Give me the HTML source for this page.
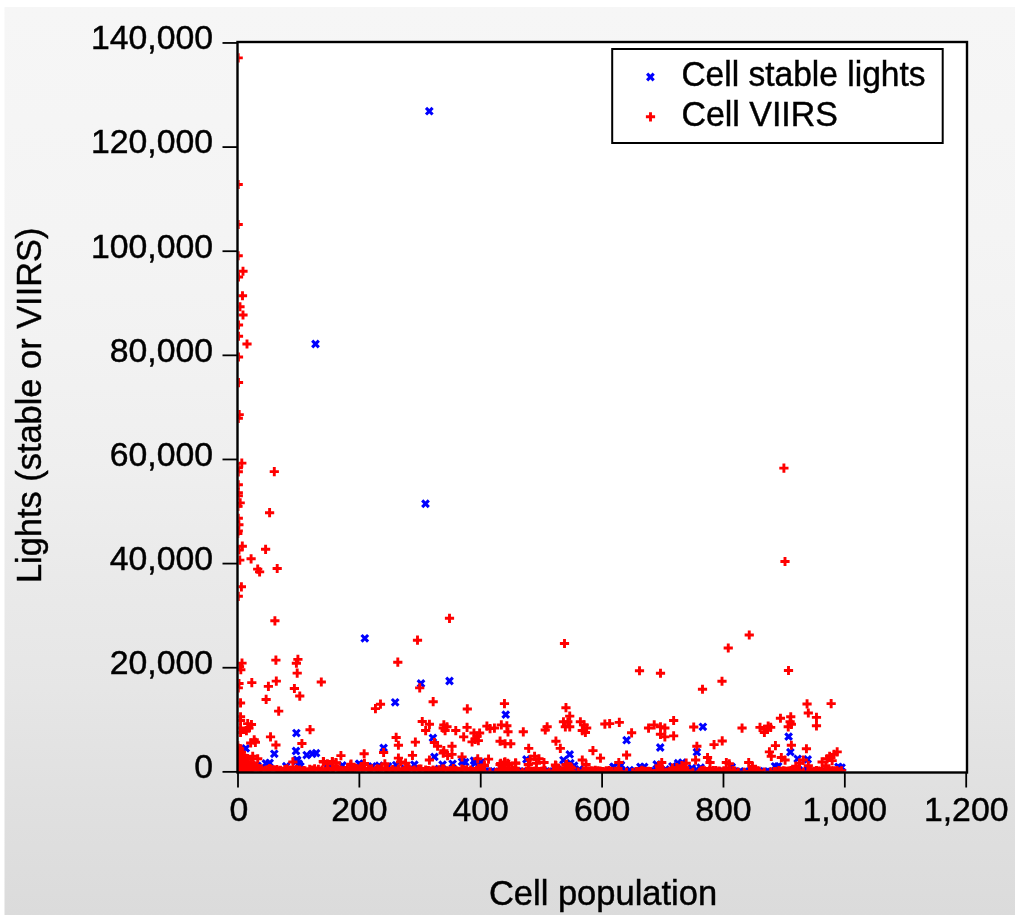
<!DOCTYPE html>
<html><head><meta charset="utf-8"><title>Lights vs cell population</title>
<style>
html,body{margin:0;padding:0;background:#fff;}
body{width:1024px;height:924px;overflow:hidden;font-family:"Liberation Sans",sans-serif;}
svg{display:block}
text{font-family:"Liberation Sans",sans-serif;fill:#000;stroke:#000;stroke-width:0.45px}
</style></head><body>
<svg width="1024" height="924" viewBox="0 0 1024 924">
<defs>
<linearGradient id="bg" x1="0" y1="0" x2="0" y2="1"><stop offset="0" stop-color="#f6f6f6"/><stop offset="0.125" stop-color="#f5f5f5"/><stop offset="0.25" stop-color="#f4f4f4"/><stop offset="0.375" stop-color="#f2f2f2"/><stop offset="0.5" stop-color="#efefef"/><stop offset="0.625" stop-color="#eaeaea"/><stop offset="0.75" stop-color="#e6e6e6"/><stop offset="0.875" stop-color="#e0e0e0"/><stop offset="1" stop-color="#dbdbdb"/></linearGradient>
<path id="p" d="M-4.6 0H4.6M0 -4.6V4.6" stroke="#f00" stroke-width="2.9" fill="none"/>
<path id="x" d="M-3.3 -3.3L3.3 3.3M-3.3 3.3L3.3 -3.3" stroke="#00f" stroke-width="3.1" fill="none"/>
<clipPath id="clip"><rect x="238.5" y="43" width="727.5" height="728.5"/></clipPath>
</defs>
<rect x="0" y="0" width="1024" height="924" fill="#fff"/>
<rect x="4.5" y="7" width="1010.5" height="908" fill="url(#bg)"/>
<rect x="237.5" y="42" width="729.5" height="730.5" fill="#fff"/>

<g clip-path="url(#clip)">
<use href="#x" x="315.5" y="344"/>
<use href="#x" x="425.5" y="503.75"/>
<use href="#x" x="297.2" y="759.9"/>
<use href="#x" x="298.7" y="763.7"/>
<use href="#x" x="257.6" y="765.9"/>
<use href="#x" x="286.2" y="766.2"/>
<use href="#x" x="296.8" y="760.7"/>
<use href="#x" x="328" y="764.6"/>
<use href="#x" x="299.9" y="766.2"/>
<use href="#x" x="364.8" y="638.3"/>
<use href="#x" x="421" y="683.5"/>
<use href="#x" x="449.5" y="681"/>
<use href="#x" x="429.3" y="111.2"/>
<use href="#x" x="296.376" y="733.067"/>
<use href="#x" x="296" y="751.012"/>
<use href="#x" x="274.29" y="753.773"/>
<use href="#x" x="245.804" y="748.376"/>
<use href="#x" x="306.667" y="755.027"/>
<use href="#x" x="312.314" y="753.773"/>
<use href="#x" x="316.078" y="753.145"/>
<use href="#x" x="265.882" y="763.435"/>
<use href="#x" x="269.647" y="762.933"/>
<use href="#x" x="296" y="760.675"/>
<use href="#x" x="300.392" y="766.322"/>
<use href="#x" x="328.627" y="764.439"/>
<use href="#x" x="342.431" y="765.443"/>
<use href="#x" x="359.373" y="763.812"/>
<use href="#x" x="395.153" y="702.322"/>
<use href="#x" x="432.925" y="737.835"/>
<use href="#x" x="383.608" y="747.875"/>
<use href="#x" x="434.431" y="756.91"/>
<use href="#x" x="414.353" y="764.69"/>
<use href="#x" x="442.588" y="764.69"/>
<use href="#x" x="462.039" y="761.678"/>
<use href="#x" x="465.176" y="762.18"/>
<use href="#x" x="452.627" y="763.812"/>
<use href="#x" x="473.961" y="760.675"/>
<use href="#x" x="475.216" y="763.184"/>
<use href="#x" x="359.137" y="763.812"/>
<use href="#x" x="379.216" y="765.694"/>
<use href="#x" x="396.157" y="765.067"/>
<use href="#x" x="404.941" y="768.831"/>
<use href="#x" x="438.824" y="768.831"/>
<use href="#x" x="372.314" y="766.322"/>
<use href="#x" x="388" y="766.322"/>
<use href="#x" x="480.863" y="762.557"/>
<use href="#x" x="505.725" y="714.62"/>
<use href="#x" x="569.725" y="754.4"/>
<use href="#x" x="563.451" y="760.047"/>
<use href="#x" x="570.353" y="763.184"/>
<use href="#x" x="574.118" y="765.694"/>
<use href="#x" x="526.431" y="759.42"/>
<use href="#x" x="480.627" y="763.184"/>
<use href="#x" x="626.588" y="740.22"/>
<use href="#x" x="660.22" y="747.498"/>
<use href="#x" x="702.886" y="726.792"/>
<use href="#x" x="696.863" y="752.141"/>
<use href="#x" x="620.314" y="765.694"/>
<use href="#x" x="629.725" y="770.086"/>
<use href="#x" x="640.392" y="766.949"/>
<use href="#x" x="644.157" y="766.949"/>
<use href="#x" x="656.706" y="764.439"/>
<use href="#x" x="665.49" y="769.459"/>
<use href="#x" x="672.392" y="766.322"/>
<use href="#x" x="678.039" y="763.184"/>
<use href="#x" x="682.431" y="762.557"/>
<use href="#x" x="691.843" y="768.204"/>
<use href="#x" x="696.235" y="770.086"/>
<use href="#x" x="700.627" y="767.576"/>
<use href="#x" x="613.412" y="766.949"/>
<use href="#x" x="788.612" y="736.58"/>
<use href="#x" x="790.369" y="752.141"/>
<use href="#x" x="797.647" y="758.792"/>
<use href="#x" x="807.686" y="759.42"/>
<use href="#x" x="775.059" y="766.322"/>
<use href="#x" x="778.196" y="766.322"/>
<use href="#x" x="731.765" y="766.949"/>
<use href="#x" x="803.294" y="770.086"/>
<use href="#x" x="838.431" y="766.949"/>
<use href="#x" x="841.569" y="767.576"/>
<use href="#x" x="480.5" y="772.2"/>
<use href="#x" x="483" y="771.3"/>
<use href="#x" x="485.8" y="771.3"/>
<use href="#x" x="489.1" y="771.3"/>
<use href="#x" x="492.1" y="771.5"/>
<use href="#x" x="495.6" y="772.1"/>
<use href="#x" x="498.9" y="771.6"/>
<use href="#x" x="501.6" y="771.7"/>
<use href="#x" x="504.7" y="771.5"/>
<use href="#x" x="507.4" y="771.5"/>
<use href="#x" x="511.6" y="771.3"/>
<use href="#x" x="514.1" y="771.8"/>
<use href="#x" x="517.6" y="771.4"/>
<use href="#x" x="520" y="771.4"/>
<use href="#x" x="523.3" y="771.6"/>
<use href="#x" x="527" y="772"/>
<use href="#x" x="530" y="771.2"/>
<use href="#x" x="532.1" y="771.9"/>
<use href="#x" x="536.3" y="771.7"/>
<use href="#x" x="539" y="771.2"/>
<use href="#x" x="541.9" y="772.1"/>
<use href="#x" x="545.5" y="772.1"/>
<use href="#x" x="548.8" y="771.4"/>
<use href="#x" x="550.8" y="771.4"/>
<use href="#x" x="554.4" y="771.9"/>
<use href="#x" x="558" y="771.9"/>
<use href="#x" x="560.8" y="772"/>
<use href="#x" x="563.6" y="771.8"/>
<use href="#x" x="566.2" y="772"/>
<use href="#x" x="569.6" y="772.1"/>
<use href="#x" x="573.2" y="771.5"/>
<use href="#x" x="575.7" y="771.5"/>
<use href="#x" x="579.4" y="771.9"/>
<use href="#x" x="581.8" y="771.3"/>
<use href="#x" x="585.4" y="771.8"/>
<use href="#x" x="588.4" y="771.4"/>
<use href="#x" x="591.7" y="771.2"/>
<use href="#x" x="594.5" y="771.7"/>
<use href="#x" x="598.4" y="771.8"/>
<use href="#x" x="601.4" y="771.7"/>
<use href="#x" x="603.7" y="771.4"/>
<use href="#x" x="607.7" y="771.9"/>
<use href="#x" x="610" y="771.2"/>
<use href="#x" x="613.3" y="771.9"/>
<use href="#x" x="616.3" y="771.5"/>
<use href="#x" x="619.7" y="772.1"/>
<use href="#x" x="622.3" y="771.2"/>
<use href="#x" x="625.5" y="771.6"/>
<use href="#x" x="629" y="771.4"/>
<use href="#x" x="632.3" y="771.9"/>
<use href="#x" x="635" y="771.4"/>
<use href="#x" x="638.7" y="771.5"/>
<use href="#x" x="641.6" y="771.4"/>
<use href="#x" x="644" y="772"/>
<use href="#x" x="647.2" y="772.2"/>
<use href="#x" x="650.5" y="771.4"/>
<use href="#x" x="653.3" y="771.6"/>
<use href="#x" x="656.9" y="772.1"/>
<use href="#x" x="659.4" y="771.6"/>
<use href="#x" x="662.6" y="772.2"/>
<use href="#x" x="665.6" y="771.3"/>
<use href="#x" x="668.6" y="771.6"/>
<use href="#x" x="672.7" y="772.1"/>
<use href="#x" x="675.6" y="772.2"/>
<use href="#x" x="678.9" y="771.5"/>
<use href="#x" x="681.1" y="772.1"/>
<use href="#x" x="684.9" y="771.2"/>
<use href="#x" x="687.9" y="771.6"/>
<use href="#x" x="690.6" y="771.5"/>
<use href="#x" x="693.5" y="771.2"/>
<use href="#x" x="696.7" y="771.6"/>
<use href="#x" x="700.6" y="771.3"/>
<use href="#x" x="703.8" y="771.4"/>
<use href="#x" x="706.1" y="772"/>
<use href="#x" x="709.8" y="771.6"/>
<use href="#x" x="712" y="771.7"/>
<use href="#x" x="715.4" y="772.1"/>
<use href="#x" x="718.3" y="771.6"/>
<use href="#x" x="722.3" y="771.2"/>
<use href="#x" x="724.8" y="772"/>
<use href="#x" x="728.3" y="771.2"/>
<use href="#x" x="730.5" y="771.3"/>
<use href="#x" x="734.7" y="771.5"/>
<use href="#x" x="737.6" y="772.1"/>
<use href="#x" x="740.2" y="771.5"/>
<use href="#x" x="744" y="771.8"/>
<use href="#x" x="746.3" y="771.9"/>
<use href="#x" x="749.5" y="771.5"/>
<use href="#x" x="752.2" y="772"/>
<use href="#x" x="756.4" y="771.8"/>
<use href="#x" x="759.5" y="771.2"/>
<use href="#x" x="761.8" y="771.7"/>
<use href="#x" x="765.7" y="772.2"/>
<use href="#x" x="768.2" y="771.5"/>
<use href="#x" x="771.3" y="771.7"/>
<use href="#x" x="775" y="771.4"/>
<use href="#x" x="778" y="771.9"/>
<use href="#x" x="781.1" y="772"/>
<use href="#x" x="783.9" y="771.5"/>
<use href="#x" x="786.7" y="771.6"/>
<use href="#x" x="790.3" y="771.3"/>
<use href="#x" x="792.7" y="772"/>
<use href="#x" x="795.9" y="771.3"/>
<use href="#x" x="798.7" y="771.8"/>
<use href="#x" x="802.2" y="772.2"/>
<use href="#x" x="806" y="772.2"/>
<use href="#x" x="808.3" y="771.3"/>
<use href="#x" x="811.2" y="771.7"/>
<use href="#x" x="815.1" y="771.6"/>
<use href="#x" x="817.6" y="771.6"/>
<use href="#x" x="821.1" y="771.9"/>
<use href="#x" x="824.4" y="772"/>
<use href="#x" x="827.4" y="771.3"/>
<use href="#x" x="830.7" y="771.5"/>
<use href="#x" x="833.5" y="771.6"/>
<use href="#x" x="836.8" y="771.4"/>
<use href="#x" x="839.3" y="771.4"/>
<use href="#x" x="842.3" y="772.1"/>
<use href="#x" x="579.5" y="769.3"/>
<use href="#x" x="562.3" y="769.7"/>
<use href="#x" x="614" y="767"/>
<use href="#x" x="621" y="765"/>
<use href="#p" x="238.2" y="57.9"/>
<use href="#p" x="238.2" y="184.5"/>
<use href="#p" x="238.2" y="224.5"/>
<use href="#p" x="238.2" y="255.75"/>
<use href="#p" x="243" y="271.25"/>
<use href="#p" x="238.5" y="277"/>
<use href="#p" x="242.5" y="295.75"/>
<use href="#p" x="240" y="306.75"/>
<use href="#p" x="243" y="315"/>
<use href="#p" x="238.5" y="325"/>
<use href="#p" x="238.5" y="336.25"/>
<use href="#p" x="247" y="344"/>
<use href="#p" x="238.5" y="357"/>
<use href="#p" x="238.5" y="382.55"/>
<use href="#p" x="239.2" y="414.6"/>
<use href="#p" x="238.3" y="418.3"/>
<use href="#p" x="241.8" y="463.1"/>
<use href="#p" x="238.3" y="467.7"/>
<use href="#p" x="238.3" y="471.8"/>
<use href="#p" x="274.3" y="471.6"/>
<use href="#p" x="238.3" y="484.8"/>
<use href="#p" x="238.3" y="492.6"/>
<use href="#p" x="238.3" y="495.7"/>
<use href="#p" x="240.2" y="502.9"/>
<use href="#p" x="238" y="506.4"/>
<use href="#p" x="269.6" y="512.7"/>
<use href="#p" x="238.3" y="518.3"/>
<use href="#p" x="238.9" y="524.8"/>
<use href="#p" x="238.3" y="530.9"/>
<use href="#p" x="237.8" y="533.5"/>
<use href="#p" x="242.3" y="546.2"/>
<use href="#p" x="239" y="550"/>
<use href="#p" x="265.6" y="549.3"/>
<use href="#p" x="251.1" y="558.8"/>
<use href="#p" x="239.8" y="560.1"/>
<use href="#p" x="257.7" y="569.1"/>
<use href="#p" x="259.6" y="571.9"/>
<use href="#p" x="277.2" y="568.5"/>
<use href="#p" x="241.4" y="586.8"/>
<use href="#p" x="238.3" y="596.3"/>
<use href="#p" x="274.9" y="620.8"/>
<use href="#p" x="242" y="663.1"/>
<use href="#p" x="240.8" y="669.7"/>
<use href="#p" x="239.5" y="666.6"/>
<use href="#p" x="275.9" y="660.1"/>
<use href="#p" x="297.9" y="659.4"/>
<use href="#p" x="296.4" y="663.2"/>
<use href="#p" x="297.2" y="673.1"/>
<use href="#p" x="239" y="683.5"/>
<use href="#p" x="238.3" y="687.9"/>
<use href="#p" x="251.8" y="682.6"/>
<use href="#p" x="268.4" y="686.4"/>
<use href="#p" x="276.3" y="681.1"/>
<use href="#p" x="294.4" y="688.5"/>
<use href="#p" x="321.3" y="682"/>
<use href="#p" x="254.2" y="739.8"/>
<use href="#p" x="250.7" y="743"/>
<use href="#p" x="255.4" y="742.3"/>
<use href="#p" x="323.3" y="761.5"/>
<use href="#p" x="332.3" y="761.5"/>
<use href="#p" x="335.9" y="762.7"/>
<use href="#p" x="351.1" y="764.2"/>
<use href="#p" x="364.4" y="763.4"/>
<use href="#p" x="449.5" y="618.3"/>
<use href="#p" x="417.5" y="640.2"/>
<use href="#p" x="397.8" y="662.2"/>
<use href="#p" x="419.7" y="687.9"/>
<use href="#p" x="564.5" y="643.5"/>
<use href="#p" x="639.5" y="670.75"/>
<use href="#p" x="660.5" y="673.25"/>
<use href="#p" x="728.25" y="648"/>
<use href="#p" x="722" y="681.25"/>
<use href="#p" x="702.5" y="689.25"/>
<use href="#p" x="783.9" y="468.1"/>
<use href="#p" x="785" y="561.5"/>
<use href="#p" x="749.25" y="635"/>
<use href="#p" x="788.5" y="670.5"/>
<use href="#p" x="266.133" y="699.435"/>
<use href="#p" x="299.765" y="696.047"/>
<use href="#p" x="278.682" y="711.106"/>
<use href="#p" x="310.055" y="729.678"/>
<use href="#p" x="270.525" y="736.831"/>
<use href="#p" x="275.922" y="744.988"/>
<use href="#p" x="301.898" y="743.482"/>
<use href="#p" x="340.925" y="755.655"/>
<use href="#p" x="240.533" y="702.949"/>
<use href="#p" x="240.533" y="716.753"/>
<use href="#p" x="240.533" y="720.518"/>
<use href="#p" x="247.686" y="723.655"/>
<use href="#p" x="251.451" y="724.533"/>
<use href="#p" x="246.431" y="730.557"/>
<use href="#p" x="248.941" y="728.047"/>
<use href="#p" x="240.533" y="728.047"/>
<use href="#p" x="240.533" y="732.439"/>
<use href="#p" x="252.706" y="756.282"/>
<use href="#p" x="257.725" y="758.792"/>
<use href="#p" x="292.863" y="761.929"/>
<use href="#p" x="323.608" y="761.929"/>
<use href="#p" x="327.373" y="763.812"/>
<use href="#p" x="332.392" y="761.929"/>
<use href="#p" x="336.157" y="763.184"/>
<use href="#p" x="350.588" y="765.067"/>
<use href="#p" x="380.471" y="704.204"/>
<use href="#p" x="375.451" y="708.596"/>
<use href="#p" x="433.176" y="701.694"/>
<use href="#p" x="467.31" y="708.973"/>
<use href="#p" x="422.259" y="721.522"/>
<use href="#p" x="429.412" y="724.282"/>
<use href="#p" x="425.647" y="730.557"/>
<use href="#p" x="443.843" y="724.91"/>
<use href="#p" x="446.98" y="726.792"/>
<use href="#p" x="445.098" y="730.557"/>
<use href="#p" x="443.216" y="728.047"/>
<use href="#p" x="455.765" y="730.557"/>
<use href="#p" x="467.059" y="727.42"/>
<use href="#p" x="463.671" y="736.831"/>
<use href="#p" x="473.961" y="733.067"/>
<use href="#p" x="477.098" y="736.204"/>
<use href="#p" x="479.608" y="733.067"/>
<use href="#p" x="475.216" y="739.341"/>
<use href="#p" x="472.078" y="741.851"/>
<use href="#p" x="478.353" y="740.596"/>
<use href="#p" x="396.157" y="737.459"/>
<use href="#p" x="398.416" y="745.239"/>
<use href="#p" x="415.357" y="742.102"/>
<use href="#p" x="452" y="746.243"/>
<use href="#p" x="434.431" y="742.478"/>
<use href="#p" x="437.569" y="746.243"/>
<use href="#p" x="383.608" y="752.518"/>
<use href="#p" x="364.157" y="753.773"/>
<use href="#p" x="412.471" y="755.404"/>
<use href="#p" x="398.416" y="758.165"/>
<use href="#p" x="400.549" y="761.929"/>
<use href="#p" x="405.569" y="763.184"/>
<use href="#p" x="443.216" y="753.145"/>
<use href="#p" x="447.608" y="755.655"/>
<use href="#p" x="452" y="754.4"/>
<use href="#p" x="443.843" y="750.635"/>
<use href="#p" x="462.039" y="756.91"/>
<use href="#p" x="429.412" y="760.047"/>
<use href="#p" x="477.725" y="758.792"/>
<use href="#p" x="364.157" y="764.439"/>
<use href="#p" x="384.863" y="763.812"/>
<use href="#p" x="504.471" y="703.576"/>
<use href="#p" x="486.902" y="726.165"/>
<use href="#p" x="490.039" y="728.675"/>
<use href="#p" x="494.431" y="728.047"/>
<use href="#p" x="501.333" y="724.91"/>
<use href="#p" x="506.855" y="725.788"/>
<use href="#p" x="507.984" y="731.812"/>
<use href="#p" x="523.294" y="731.812"/>
<use href="#p" x="500.078" y="741.224"/>
<use href="#p" x="505.098" y="743.733"/>
<use href="#p" x="510.745" y="743.733"/>
<use href="#p" x="528.69" y="748.376"/>
<use href="#p" x="547.137" y="726.792"/>
<use href="#p" x="545.255" y="729.929"/>
<use href="#p" x="565.961" y="707.718"/>
<use href="#p" x="569.725" y="716.125"/>
<use href="#p" x="563.451" y="721.773"/>
<use href="#p" x="567.843" y="721.773"/>
<use href="#p" x="565.333" y="726.792"/>
<use href="#p" x="569.725" y="726.792"/>
<use href="#p" x="580.392" y="721.773"/>
<use href="#p" x="584.157" y="724.91"/>
<use href="#p" x="586.667" y="728.047"/>
<use href="#p" x="582.275" y="730.557"/>
<use href="#p" x="585.412" y="732.439"/>
<use href="#p" x="604.863" y="724.031"/>
<use href="#p" x="555.922" y="741.224"/>
<use href="#p" x="560.314" y="748.376"/>
<use href="#p" x="592.941" y="750.635"/>
<use href="#p" x="600.471" y="758.165"/>
<use href="#p" x="488.533" y="759.169"/>
<use href="#p" x="582.275" y="760.047"/>
<use href="#p" x="586.039" y="764.439"/>
<use href="#p" x="534.588" y="756.282"/>
<use href="#p" x="530.196" y="759.42"/>
<use href="#p" x="538.98" y="758.792"/>
<use href="#p" x="544" y="762.557"/>
<use href="#p" x="528.314" y="764.439"/>
<use href="#p" x="536.471" y="763.184"/>
<use href="#p" x="504.471" y="762.557"/>
<use href="#p" x="500.078" y="764.439"/>
<use href="#p" x="515.765" y="763.184"/>
<use href="#p" x="508.863" y="764.439"/>
<use href="#p" x="555.922" y="765.694"/>
<use href="#p" x="566.588" y="764.439"/>
<use href="#p" x="570.353" y="766.949"/>
<use href="#p" x="484.392" y="765.694"/>
<use href="#p" x="609.647" y="723.655"/>
<use href="#p" x="619.31" y="722.4"/>
<use href="#p" x="631.608" y="732.816"/>
<use href="#p" x="673.647" y="720.518"/>
<use href="#p" x="648.549" y="728.047"/>
<use href="#p" x="654.196" y="724.91"/>
<use href="#p" x="660.471" y="726.792"/>
<use href="#p" x="664.863" y="728.047"/>
<use href="#p" x="660.471" y="734.322"/>
<use href="#p" x="664.863" y="736.831"/>
<use href="#p" x="673.647" y="735.827"/>
<use href="#p" x="693.725" y="727.043"/>
<use href="#p" x="722.212" y="740.973"/>
<use href="#p" x="714.055" y="744.612"/>
<use href="#p" x="696.863" y="746.243"/>
<use href="#p" x="626.588" y="755.027"/>
<use href="#p" x="618.808" y="762.557"/>
<use href="#p" x="661.725" y="762.557"/>
<use href="#p" x="659.216" y="765.694"/>
<use href="#p" x="695.608" y="760.047"/>
<use href="#p" x="707.529" y="757.537"/>
<use href="#p" x="710.039" y="762.557"/>
<use href="#p" x="686.196" y="763.184"/>
<use href="#p" x="681.804" y="765.694"/>
<use href="#p" x="676.784" y="767.576"/>
<use href="#p" x="672.392" y="768.204"/>
<use href="#p" x="726.353" y="762.557"/>
<use href="#p" x="807.059" y="703.953"/>
<use href="#p" x="831.153" y="703.576"/>
<use href="#p" x="808.314" y="712.988"/>
<use href="#p" x="816.471" y="717.38"/>
<use href="#p" x="816.471" y="725.788"/>
<use href="#p" x="780.455" y="718.259"/>
<use href="#p" x="790.745" y="716.753"/>
<use href="#p" x="790.118" y="721.773"/>
<use href="#p" x="791.373" y="724.282"/>
<use href="#p" x="788.235" y="726.792"/>
<use href="#p" x="742.055" y="728.047"/>
<use href="#p" x="760" y="727.42"/>
<use href="#p" x="764.392" y="729.302"/>
<use href="#p" x="768.157" y="726.165"/>
<use href="#p" x="770.667" y="727.42"/>
<use href="#p" x="764.392" y="732.439"/>
<use href="#p" x="767.529" y="729.302"/>
<use href="#p" x="775.435" y="745.616"/>
<use href="#p" x="791.373" y="745.239"/>
<use href="#p" x="806.431" y="748.753"/>
<use href="#p" x="769.412" y="751.89"/>
<use href="#p" x="771.294" y="756.282"/>
<use href="#p" x="781.333" y="757.537"/>
<use href="#p" x="785.098" y="760.047"/>
<use href="#p" x="748.706" y="762.557"/>
<use href="#p" x="752.471" y="766.322"/>
<use href="#p" x="729.255" y="763.812"/>
<use href="#p" x="837.176" y="751.89"/>
<use href="#p" x="834.039" y="754.4"/>
<use href="#p" x="829.647" y="756.282"/>
<use href="#p" x="827.137" y="758.792"/>
<use href="#p" x="832.157" y="760.675"/>
<use href="#p" x="822.118" y="761.929"/>
<use href="#p" x="825.882" y="765.694"/>
<use href="#p" x="803.294" y="760.047"/>
<use href="#p" x="799.529" y="763.184"/>
<use href="#p" x="795.765" y="766.322"/>
<use href="#p" x="808.314" y="765.694"/>
<use href="#p" x="238.8" y="769"/>
<use href="#p" x="241.1" y="768.7"/>
<use href="#p" x="242.8" y="769.7"/>
<use href="#p" x="244.2" y="770.2"/>
<use href="#p" x="246" y="769.9"/>
<use href="#p" x="248" y="768.8"/>
<use href="#p" x="250.3" y="771.2"/>
<use href="#p" x="251.8" y="769.2"/>
<use href="#p" x="254.4" y="771.6"/>
<use href="#p" x="256.2" y="769.8"/>
<use href="#p" x="258.6" y="768.7"/>
<use href="#p" x="260.3" y="769.5"/>
<use href="#p" x="261.4" y="768.9"/>
<use href="#p" x="263.5" y="771.2"/>
<use href="#p" x="265.2" y="770.4"/>
<use href="#p" x="267.7" y="769.7"/>
<use href="#p" x="269.5" y="768.7"/>
<use href="#p" x="270.8" y="769.2"/>
<use href="#p" x="273.4" y="769.9"/>
<use href="#p" x="274.9" y="770.4"/>
<use href="#p" x="276.9" y="769.5"/>
<use href="#p" x="279.3" y="770.8"/>
<use href="#p" x="280.5" y="770.4"/>
<use href="#p" x="282.7" y="771.4"/>
<use href="#p" x="284.9" y="769.5"/>
<use href="#p" x="287.1" y="768.9"/>
<use href="#p" x="288.3" y="771"/>
<use href="#p" x="289.9" y="770.1"/>
<use href="#p" x="291.6" y="770.7"/>
<use href="#p" x="294.4" y="770.4"/>
<use href="#p" x="296.5" y="769.5"/>
<use href="#p" x="298.1" y="770.5"/>
<use href="#p" x="299.9" y="770"/>
<use href="#p" x="302.1" y="771.6"/>
<use href="#p" x="303.6" y="770.7"/>
<use href="#p" x="305" y="770.8"/>
<use href="#p" x="307.6" y="771.8"/>
<use href="#p" x="309.7" y="769.4"/>
<use href="#p" x="311.1" y="770.7"/>
<use href="#p" x="312.5" y="770"/>
<use href="#p" x="314.6" y="768.9"/>
<use href="#p" x="316.4" y="771"/>
<use href="#p" x="318.4" y="769.3"/>
<use href="#p" x="320.6" y="771.4"/>
<use href="#p" x="322.1" y="770"/>
<use href="#p" x="324.6" y="771.4"/>
<use href="#p" x="326.8" y="771.4"/>
<use href="#p" x="328" y="769.9"/>
<use href="#p" x="330" y="771.4"/>
<use href="#p" x="332.6" y="769"/>
<use href="#p" x="333.6" y="769.3"/>
<use href="#p" x="335.6" y="770.1"/>
<use href="#p" x="337.9" y="769.4"/>
<use href="#p" x="339.1" y="769.9"/>
<use href="#p" x="341.4" y="770.4"/>
<use href="#p" x="344" y="770.8"/>
<use href="#p" x="345.4" y="770.5"/>
<use href="#p" x="347.5" y="768.7"/>
<use href="#p" x="349.7" y="771.1"/>
<use href="#p" x="351.5" y="771.1"/>
<use href="#p" x="352.9" y="769.8"/>
<use href="#p" x="354.4" y="770.6"/>
<use href="#p" x="356.3" y="768.7"/>
<use href="#p" x="358.4" y="769"/>
<use href="#p" x="360.4" y="768.7"/>
<use href="#p" x="361.9" y="769"/>
<use href="#p" x="363.9" y="769.7"/>
<use href="#p" x="365.7" y="771.4"/>
<use href="#p" x="368.3" y="769"/>
<use href="#p" x="369.8" y="769.6"/>
<use href="#p" x="371.8" y="768.9"/>
<use href="#p" x="374.3" y="771.8"/>
<use href="#p" x="375.8" y="770.1"/>
<use href="#p" x="377.2" y="768.8"/>
<use href="#p" x="379.4" y="769.4"/>
<use href="#p" x="381.9" y="769"/>
<use href="#p" x="382.8" y="771.6"/>
<use href="#p" x="385.3" y="769"/>
<use href="#p" x="387.3" y="768.6"/>
<use href="#p" x="389.1" y="771.7"/>
<use href="#p" x="391.4" y="770.8"/>
<use href="#p" x="392.6" y="769.7"/>
<use href="#p" x="394.4" y="771"/>
<use href="#p" x="396.7" y="771.1"/>
<use href="#p" x="398.4" y="769.2"/>
<use href="#p" x="400.9" y="771.8"/>
<use href="#p" x="402.8" y="771.2"/>
<use href="#p" x="404.7" y="770.9"/>
<use href="#p" x="405.9" y="770.2"/>
<use href="#p" x="407.9" y="768.6"/>
<use href="#p" x="409.4" y="769.4"/>
<use href="#p" x="411.6" y="770.8"/>
<use href="#p" x="414.3" y="770"/>
<use href="#p" x="416.2" y="771.8"/>
<use href="#p" x="418.1" y="769.7"/>
<use href="#p" x="419.2" y="769.2"/>
<use href="#p" x="421" y="769.2"/>
<use href="#p" x="423.4" y="771.5"/>
<use href="#p" x="425.6" y="770.1"/>
<use href="#p" x="427.3" y="771.1"/>
<use href="#p" x="428.5" y="770.7"/>
<use href="#p" x="431.4" y="771.1"/>
<use href="#p" x="433.1" y="770.1"/>
<use href="#p" x="434.3" y="771.1"/>
<use href="#p" x="436.4" y="771.1"/>
<use href="#p" x="439.1" y="769.8"/>
<use href="#p" x="440.3" y="771.6"/>
<use href="#p" x="442.6" y="769.1"/>
<use href="#p" x="443.8" y="769"/>
<use href="#p" x="446.6" y="771.2"/>
<use href="#p" x="447.6" y="771.2"/>
<use href="#p" x="450.5" y="770.7"/>
<use href="#p" x="451.6" y="770.3"/>
<use href="#p" x="453.3" y="768.5"/>
<use href="#p" x="456.2" y="770.6"/>
<use href="#p" x="457.5" y="771.6"/>
<use href="#p" x="459.3" y="771.4"/>
<use href="#p" x="461.7" y="769.2"/>
<use href="#p" x="462.9" y="769.5"/>
<use href="#p" x="464.8" y="770.4"/>
<use href="#p" x="466.7" y="769.9"/>
<use href="#p" x="468.5" y="771.5"/>
<use href="#p" x="470.6" y="770"/>
<use href="#p" x="472.8" y="771.5"/>
<use href="#p" x="474.5" y="771.5"/>
<use href="#p" x="476.5" y="770.3"/>
<use href="#p" x="478.4" y="768.6"/>
<use href="#p" x="480.2" y="769.1"/>
<use href="#p" x="481.6" y="771.1"/>
<use href="#p" x="237.8" y="745.6"/>
<use href="#p" x="238.1" y="748.2"/>
<use href="#p" x="237.9" y="750.8"/>
<use href="#p" x="238" y="753.6"/>
<use href="#p" x="237.8" y="756"/>
<use href="#p" x="237.8" y="758.5"/>
<use href="#p" x="238.2" y="761.2"/>
<use href="#p" x="238" y="764"/>
<use href="#p" x="238.2" y="766.4"/>
<use href="#p" x="238.1" y="769"/>
<use href="#p" x="238" y="771.7"/>
<use href="#p" x="239.6" y="748.8"/>
<use href="#p" x="239.6" y="751.7"/>
<use href="#p" x="239.7" y="754.2"/>
<use href="#p" x="239.9" y="756.5"/>
<use href="#p" x="239.6" y="759.5"/>
<use href="#p" x="239.8" y="761.6"/>
<use href="#p" x="239.4" y="764.4"/>
<use href="#p" x="239.3" y="766.8"/>
<use href="#p" x="239.3" y="769.7"/>
<use href="#p" x="241.4" y="752.2"/>
<use href="#p" x="241" y="754.7"/>
<use href="#p" x="241.3" y="757"/>
<use href="#p" x="241.4" y="760.1"/>
<use href="#p" x="241" y="762.7"/>
<use href="#p" x="241.1" y="765"/>
<use href="#p" x="241.5" y="767.8"/>
<use href="#p" x="241" y="770.2"/>
<use href="#p" x="242.8" y="755.1"/>
<use href="#p" x="242.6" y="757.7"/>
<use href="#p" x="242.9" y="760.1"/>
<use href="#p" x="242.8" y="763"/>
<use href="#p" x="242.5" y="765.5"/>
<use href="#p" x="242.9" y="768.2"/>
<use href="#p" x="242.5" y="771.1"/>
<use href="#p" x="244.6" y="758.7"/>
<use href="#p" x="244.2" y="760.9"/>
<use href="#p" x="244.1" y="763.8"/>
<use href="#p" x="244.3" y="766"/>
<use href="#p" x="244.4" y="769"/>
<use href="#p" x="244.6" y="771.3"/>
<use href="#p" x="245.8" y="761.9"/>
<use href="#p" x="246" y="764.3"/>
<use href="#p" x="245.8" y="766.5"/>
<use href="#p" x="246.1" y="769.4"/>
<use href="#p" x="247.3" y="765.1"/>
<use href="#p" x="247.7" y="767.6"/>
<use href="#p" x="247.4" y="770.2"/>
<use href="#p" x="248.9" y="768.2"/>
<use href="#p" x="249.2" y="770.5"/>
<use href="#p" x="250.5" y="763"/>
<use href="#p" x="253.5" y="765"/>
<use href="#p" x="247.5" y="758.5"/>
<use href="#p" x="256" y="766"/>
<use href="#p" x="484.6" y="771.9"/>
<use href="#p" x="499" y="770.6"/>
<use href="#p" x="501.3" y="770.8"/>
<use href="#p" x="503" y="770.7"/>
<use href="#p" x="505.1" y="770.7"/>
<use href="#p" x="507.4" y="770.9"/>
<use href="#p" x="510" y="770.9"/>
<use href="#p" x="511.8" y="770.7"/>
<use href="#p" x="513.7" y="770.4"/>
<use href="#p" x="515.8" y="770.4"/>
<use href="#p" x="518.3" y="771.3"/>
<use href="#p" x="526.2" y="771.2"/>
<use href="#p" x="529" y="770.6"/>
<use href="#p" x="531" y="771.1"/>
<use href="#p" x="532.8" y="771.7"/>
<use href="#p" x="534.8" y="771.2"/>
<use href="#p" x="537.2" y="772"/>
<use href="#p" x="538.9" y="771.7"/>
<use href="#p" x="541.4" y="771.4"/>
<use href="#p" x="543.2" y="771"/>
<use href="#p" x="545" y="770.6"/>
<use href="#p" x="553.4" y="771.6"/>
<use href="#p" x="555.7" y="770.7"/>
<use href="#p" x="557.6" y="771.7"/>
<use href="#p" x="560.5" y="771.5"/>
<use href="#p" x="562" y="770.8"/>
<use href="#p" x="564.1" y="771.1"/>
<use href="#p" x="566.1" y="771.1"/>
<use href="#p" x="568.3" y="771.9"/>
<use href="#p" x="571.1" y="771.3"/>
<use href="#p" x="572.4" y="771.9"/>
<use href="#p" x="583" y="771"/>
<use href="#p" x="584.8" y="771"/>
<use href="#p" x="587.4" y="771.2"/>
<use href="#p" x="589.2" y="771.2"/>
<use href="#p" x="591.1" y="770.8"/>
<use href="#p" x="593.3" y="771"/>
<use href="#p" x="595.3" y="770.4"/>
<use href="#p" x="597.7" y="770.8"/>
<use href="#p" x="600.1" y="771.2"/>
<use href="#p" x="602.4" y="771.5"/>
<use href="#p" x="604.4" y="771.8"/>
<use href="#p" x="606.2" y="770.9"/>
<use href="#p" x="608.9" y="770.6"/>
<use href="#p" x="610.7" y="771.4"/>
<use href="#p" x="612.1" y="771.7"/>
<use href="#p" x="615.1" y="771.4"/>
<use href="#p" x="617" y="771.7"/>
<use href="#p" x="618.5" y="771.2"/>
<use href="#p" x="621" y="771.7"/>
<use href="#p" x="636" y="771.7"/>
<use href="#p" x="637.9" y="771.8"/>
<use href="#p" x="640.1" y="771.5"/>
<use href="#p" x="641.7" y="770.4"/>
<use href="#p" x="643.7" y="771"/>
<use href="#p" x="645.8" y="771.7"/>
<use href="#p" x="648.4" y="771.4"/>
<use href="#p" x="650.5" y="771.5"/>
<use href="#p" x="656.7" y="770.4"/>
<use href="#p" x="659.1" y="771.6"/>
<use href="#p" x="660.9" y="771.3"/>
<use href="#p" x="663.2" y="770.5"/>
<use href="#p" x="671.6" y="770.8"/>
<use href="#p" x="673.1" y="770.8"/>
<use href="#p" x="675.8" y="770.7"/>
<use href="#p" x="677.9" y="772"/>
<use href="#p" x="679.8" y="771"/>
<use href="#p" x="681.9" y="771.5"/>
<use href="#p" x="684.3" y="771.4"/>
<use href="#p" x="686.2" y="770.5"/>
<use href="#p" x="687.8" y="770.8"/>
<use href="#p" x="701" y="770.9"/>
<use href="#p" x="703" y="770.4"/>
<use href="#p" x="704.6" y="770.8"/>
<use href="#p" x="707.3" y="771.5"/>
<use href="#p" x="709.4" y="770.9"/>
<use href="#p" x="711.3" y="771.1"/>
<use href="#p" x="713.4" y="770.6"/>
<use href="#p" x="715.9" y="770.7"/>
<use href="#p" x="718.1" y="771.9"/>
<use href="#p" x="719.2" y="771.1"/>
<use href="#p" x="722.1" y="771.9"/>
<use href="#p" x="723.8" y="770.8"/>
<use href="#p" x="725.7" y="771.9"/>
<use href="#p" x="727.8" y="771.3"/>
<use href="#p" x="729.8" y="771.2"/>
<use href="#p" x="732.8" y="770.6"/>
<use href="#p" x="734.7" y="771.2"/>
<use href="#p" x="749.5" y="771.5"/>
<use href="#p" x="750.9" y="771.8"/>
<use href="#p" x="753.3" y="770.4"/>
<use href="#p" x="754.9" y="771.2"/>
<use href="#p" x="757.5" y="770.9"/>
<use href="#p" x="759.2" y="771"/>
<use href="#p" x="774.1" y="771.7"/>
<use href="#p" x="775.9" y="771.6"/>
<use href="#p" x="778.8" y="770.6"/>
<use href="#p" x="781" y="771.5"/>
<use href="#p" x="783.1" y="770.9"/>
<use href="#p" x="784.7" y="771"/>
<use href="#p" x="787.4" y="771.3"/>
<use href="#p" x="788.9" y="771.1"/>
<use href="#p" x="790.9" y="770.5"/>
<use href="#p" x="792.8" y="771.7"/>
<use href="#p" x="795.1" y="771.9"/>
<use href="#p" x="797.1" y="770.8"/>
<use href="#p" x="799.5" y="770.7"/>
<use href="#p" x="807.8" y="771.9"/>
<use href="#p" x="810.4" y="771.7"/>
<use href="#p" x="812.2" y="771.9"/>
<use href="#p" x="814.6" y="771.3"/>
<use href="#p" x="816.5" y="770.5"/>
<use href="#p" x="818.6" y="771.1"/>
<use href="#p" x="820.8" y="771.4"/>
<use href="#p" x="822.4" y="770.5"/>
<use href="#p" x="825.1" y="770.6"/>
<use href="#p" x="826.8" y="770.9"/>
<use href="#p" x="828.7" y="771.6"/>
<use href="#p" x="831.5" y="770.8"/>
<use href="#p" x="833.3" y="770.9"/>
<use href="#p" x="835.3" y="771"/>
<use href="#p" x="837" y="770.7"/>
<use href="#p" x="839.1" y="771.8"/>
<use href="#p" x="841.5" y="770.8"/>
<use href="#p" x="490" y="772.3"/>
<use href="#p" x="495.9" y="772.5"/>
<use href="#p" x="522.5" y="772.3"/>
<use href="#p" x="549.2" y="772.4"/>
<use href="#p" x="578.2" y="772.2"/>
<use href="#p" x="626.5" y="772.4"/>
<use href="#p" x="632.7" y="772.5"/>
<use href="#p" x="666.4" y="772.3"/>
<use href="#p" x="692.9" y="772.3"/>
<use href="#p" x="699.4" y="772.4"/>
<use href="#p" x="738.3" y="772.3"/>
<use href="#p" x="744.2" y="772.3"/>
<use href="#p" x="764.3" y="772.4"/>
<use href="#p" x="770.7" y="772.2"/>
<use href="#p" x="803.4" y="772.4"/>
<use href="#p" x="565.9" y="765"/>
<use href="#p" x="568.6" y="766.6"/>
<use href="#p" x="571.7" y="768.1"/>
<use href="#p" x="500.7" y="763.4"/>
<use href="#p" x="505" y="761.9"/>
<use href="#p" x="507.7" y="763.4"/>
<use href="#p" x="515.5" y="763"/>
<use href="#p" x="484.3" y="765"/>
<use href="#p" x="555.4" y="765"/>
</g>
<rect x="237.5" y="42" width="729.5" height="730.5" fill="none" stroke="#000" stroke-width="2.4"/>
<line x1="222.5" x2="237" y1="771.85" y2="771.85" stroke="#000" stroke-width="1.8"/>
<text x="213.1" y="778.15" font-size="33.8" text-anchor="end">0</text>
<line x1="222.5" x2="237" y1="667.72" y2="667.72" stroke="#000" stroke-width="1.8"/>
<text x="213.1" y="674.02" font-size="33.8" text-anchor="end">20,000</text>
<line x1="222.5" x2="237" y1="563.59" y2="563.59" stroke="#000" stroke-width="1.8"/>
<text x="213.1" y="569.89" font-size="33.8" text-anchor="end">40,000</text>
<line x1="222.5" x2="237" y1="459.46" y2="459.46" stroke="#000" stroke-width="1.8"/>
<text x="213.1" y="465.76" font-size="33.8" text-anchor="end">60,000</text>
<line x1="222.5" x2="237" y1="355.34" y2="355.34" stroke="#000" stroke-width="1.8"/>
<text x="213.1" y="361.64" font-size="33.8" text-anchor="end">80,000</text>
<line x1="222.5" x2="237" y1="251.21" y2="251.21" stroke="#000" stroke-width="1.8"/>
<text x="213.1" y="257.51" font-size="33.8" text-anchor="end">100,000</text>
<line x1="222.5" x2="237" y1="147.08" y2="147.08" stroke="#000" stroke-width="1.8"/>
<text x="213.1" y="153.38" font-size="33.8" text-anchor="end">120,000</text>
<line x1="222.5" x2="237" y1="42.95" y2="42.95" stroke="#000" stroke-width="1.8"/>
<text x="213.1" y="49.25" font-size="33.8" text-anchor="end">140,000</text>
<line x1="238.00" x2="238.00" y1="773" y2="787.5" stroke="#000" stroke-width="1.8"/>
<text x="238.80" y="821.4" font-size="33.8" text-anchor="middle">0</text>
<line x1="359.37" x2="359.37" y1="773" y2="787.5" stroke="#000" stroke-width="1.8"/>
<text x="359.37" y="821.4" font-size="33.8" text-anchor="middle">200</text>
<line x1="480.73" x2="480.73" y1="773" y2="787.5" stroke="#000" stroke-width="1.8"/>
<text x="480.73" y="821.4" font-size="33.8" text-anchor="middle">400</text>
<line x1="602.10" x2="602.10" y1="773" y2="787.5" stroke="#000" stroke-width="1.8"/>
<text x="602.10" y="821.4" font-size="33.8" text-anchor="middle">600</text>
<line x1="723.47" x2="723.47" y1="773" y2="787.5" stroke="#000" stroke-width="1.8"/>
<text x="723.47" y="821.4" font-size="33.8" text-anchor="middle">800</text>
<line x1="844.83" x2="844.83" y1="773" y2="787.5" stroke="#000" stroke-width="1.8"/>
<text x="844.83" y="821.4" font-size="33.8" text-anchor="middle">1,000</text>
<line x1="966.20" x2="966.20" y1="773" y2="787.5" stroke="#000" stroke-width="1.8"/>
<text x="966.20" y="821.4" font-size="33.8" text-anchor="middle">1,200</text>
<text x="603" y="905.3" font-size="34.5" text-anchor="middle">Cell population</text>
<text transform="translate(41.0 405.3) rotate(-90)" font-size="34.4" text-anchor="middle">Lights (stable or VIIRS)</text>
<rect x="612.2" y="49" width="330.5" height="94" fill="#fff" stroke="#000" stroke-width="2"/>
<use href="#x" x="650.4" y="77"/>
<use href="#p" x="650.5" y="116.8"/>
<text transform="translate(681.4 85.8) scale(0.972 1)" font-size="34.5">Cell stable lights</text>
<text transform="translate(681.4 125.6) scale(0.984 1)" font-size="34.5">Cell VIIRS</text>
</svg></body></html>
